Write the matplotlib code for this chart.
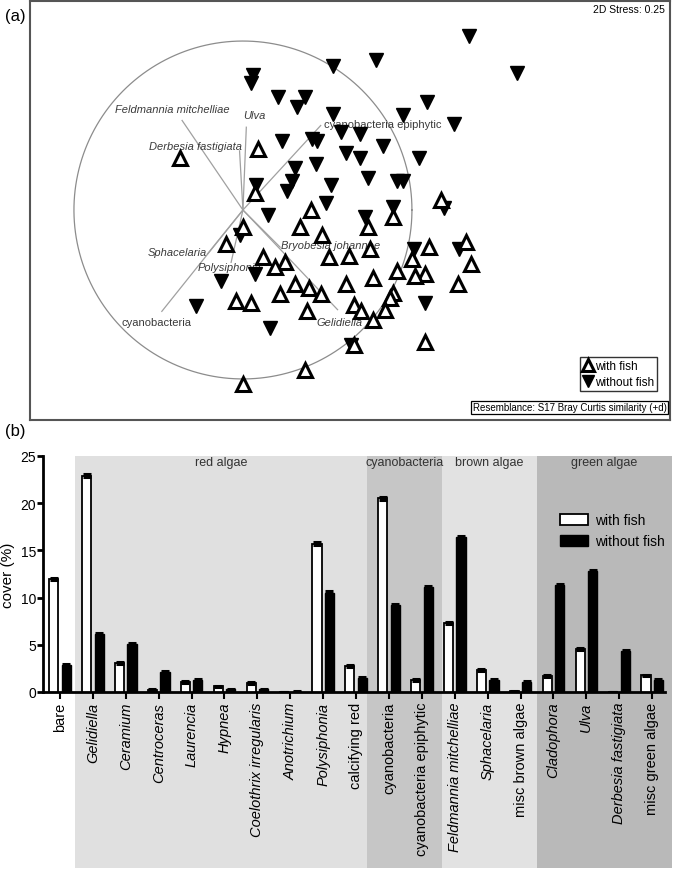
import numpy as np
import matplotlib
matplotlib.use('Agg')
import matplotlib.pyplot as plt
from matplotlib.patches import Rectangle, Patch
from matplotlib.lines import Line2D
from matplotlib.transforms import blended_transform_factory

plt.rcParams['font.family'] = ['Liberation Sans', 'DejaVu Sans']

# ---- (a) nMDS ordination, MDS1 / MDS2 scores ----
with_fish_x = [-0.37, 0.09, 0.07, 1.17, 0.40, 0.89, 0.34, 0.74, 0.00, 0.47, -0.10,
               1.10, 1.32, 0.75, 1.00, 0.51, 0.63, 1.35, 0.12, 0.25, 0.19, 0.91,
               1.08, 1.02, 0.77, 0.31, 0.39, 0.61, 1.27, 0.46, 0.89, 0.87, 0.22,
               -0.04, 0.05, 0.66, 0.70, 0.84, 0.38, 0.77, 1.08, 0.66, 0.37, 0.00]
with_fish_y = [0.31, 0.36, 0.10, 0.06, 0.00, -0.04, -0.10, -0.10, -0.10, -0.15, -0.20,
               -0.22, -0.19, -0.23, -0.29, -0.28, -0.27, -0.32, -0.28, -0.31, -0.34, -0.36,
               -0.38, -0.39, -0.40, -0.44, -0.46, -0.44, -0.44, -0.50, -0.49, -0.52, -0.50,
               -0.54, -0.55, -0.56, -0.60, -0.59, -0.60, -0.65, -0.78, -0.80, -0.95, -1.03]

without_fish_x = [1.34, 0.79, 1.62, 0.53, 0.06, 0.05, 0.21, 0.37, 0.32, 1.09, 0.53,
                  0.95, 1.25, 0.58, 0.69, 0.41, 0.44, 0.23, 0.83, 0.61, 0.69, 1.04,
                  0.31, 0.43, 0.29, 0.08, 0.52, 0.74, 0.91, 0.95, 0.26, 0.49, 0.89,
                  1.19, 0.15, 0.72, -0.02, 1.01, 1.28, 0.07, -0.13, -0.28, 1.08, 0.16, 0.64]
without_fish_y = [1.03, 0.89, 0.81, 0.85, 0.80, 0.75, 0.67, 0.67, 0.61, 0.64, 0.57,
                  0.56, 0.51, 0.46, 0.45, 0.42, 0.41, 0.41, 0.38, 0.34, 0.31, 0.31,
                  0.25, 0.27, 0.17, 0.15, 0.15, 0.19, 0.17, 0.17, 0.11, 0.04, 0.02,
                  0.01, -0.03, -0.04, -0.15, -0.23, -0.23, -0.38, -0.42, -0.57, -0.55, -0.70, -0.80]

vec_names = ['Feldmannia mitchelliae', 'Ulva', 'Derbesia fastigiata',
             'cyanobacteria epiphytic', 'Bryobesia johannae', 'Gelidiella',
             'Sphacelaria', 'Polysiphonia', 'cyanobacteria']
vec_x = [-0.36, 0.02, -0.02, 0.46, 0.22, 0.56, -0.21, -0.07, -0.48]
vec_y = [0.53, 0.49, 0.35, 0.50, -0.22, -0.59, -0.26, -0.31, -0.60]

# ---- (b) percent cover ----
categories = ['bare', 'Gelidiella', 'Ceramium', 'Centroceras', 'Laurencia', 'Hypnea',
              'Coelothrix irregularis', 'Anotrichium', 'Polysiphonia', 'calcifying red',
              'cyanobacteria', 'cyanobacteria epiphytic', 'Feldmannia mitchelliae',
              'Sphacelaria', 'misc brown algae', 'Cladophora', 'Ulva',
              'Derbesia fastigiata', 'misc green algae']
italic_names = ['Gelidiella', 'Ceramium', 'Centroceras', 'Laurencia', 'Hypnea',
                'Coelothrix irregularis', 'Anotrichium', 'Polysiphonia',
                'Feldmannia mitchelliae', 'Sphacelaria', 'Cladophora', 'Ulva',
                'Derbesia fastigiata']
cover_with = [12.0, 22.9, 3.1, 0.25, 1.1, 0.6, 1.0, 0.0, 15.7, 2.8, 20.5, 1.3,
              7.3, 2.3, 0.1, 1.65, 4.6, 0.05, 1.75]
cover_without = [2.9, 6.1, 5.1, 2.1, 1.25, 0.3, 0.3, 0.05, 10.5, 1.5, 9.2, 11.1,
                 16.4, 1.3, 1.05, 11.3, 12.8, 4.35, 1.3]
err_with = [0.1, 0.15, 0.1, 0.05, 0.1, 0.05, 0.1, 0.0, 0.15, 0.1, 0.15, 0.1,
            0.1, 0.1, 0.05, 0.1, 0.1, 0.0, 0.1]
err_without = [0.1, 0.1, 0.1, 0.1, 0.1, 0.05, 0.05, 0.02, 0.15, 0.1, 0.15, 0.15,
               0.15, 0.1, 0.1, 0.15, 0.15, 0.1, 0.1]

groups = ['red algae', 'cyanobacteria', 'brown algae', 'green algae']
group_start = [0.46, 9.33, 11.61, 14.5]
group_end = [9.33, 11.61, 14.5, 18.6]
group_colors = ['#e0e0e0', '#c6c6c6', '#e2e2e2', '#b9b9b9']

fig = plt.figure(figsize=(6.73, 8.70), dpi=100)

# ================= panel (a) =================
ax1 = fig.add_axes([30/673, 1-421/870, 640/673, 419/870])
ax1.set_xlim(-1.26, 2.527)
ax1.set_ylim(-1.243, 1.237)
ax1.set_xticks([])
ax1.set_yticks([])
for s in ax1.spines.values():
    s.set_color('#555555')
    s.set_linewidth(1.5)

t = np.linspace(0, 2*np.pi, 400)
ax1.plot(np.cos(t), np.sin(t), color='#8c8c8c', lw=0.9, zorder=1)
for vx, vy in zip(vec_x, vec_y):
    ax1.plot([0, vx], [0, vy], color='#a0a0a0', lw=0.9, zorder=1)

label_pos = {
    'Feldmannia mitchelliae': (-0.42, 0.60),
    'Ulva': (0.07, 0.56),
    'Derbesia fastigiata': (-0.28, 0.38),
    'cyanobacteria epiphytic': (0.83, 0.51),
    'Bryobesia johannae': (0.52, -0.21),
    'Gelidiella': (0.57, -0.66),
    'Sphacelaria': (-0.39, -0.25),
    'Polysiphonia': (-0.08, -0.34),
    'cyanobacteria': (-0.51, -0.66),
}
for name in vec_names:
    lx, ly = label_pos[name]
    st = 'normal' if name.startswith('cyanobacteria') else 'italic'
    ax1.text(lx, ly, name, ha='center', va='center', fontsize=8, style=st,
             color='#3a3a3a', zorder=2)

ax1.plot(without_fish_x, without_fish_y, linestyle='none', marker='v', ms=9.5,
         mfc='black', mec='black', mew=1, zorder=3)
ax1.plot(with_fish_x, with_fish_y, linestyle='none', marker='^', ms=9.5,
         mfc='white', mec='black', mew=2.2, zorder=4)

ax1.text(0.992, 0.982, '2D Stress: 0.25', transform=ax1.transAxes, ha='right',
         va='center', fontsize=7.5)
ax1.text(0.995, 0.018, 'Resemblance: S17 Bray Curtis similarity (+d)',
         transform=ax1.transAxes, ha='right', va='bottom', fontsize=7,
         bbox=dict(boxstyle='square,pad=0.15', fc='white', ec='black', lw=0.9))
h1 = [Line2D([], [], linestyle='none', marker='^', ms=9, mfc='white', mec='black', mew=2.2),
      Line2D([], [], linestyle='none', marker='v', ms=9, mfc='black', mec='black')]
leg1 = ax1.legend(h1, ['with fish', 'without fish'], loc='lower right',
                  bbox_to_anchor=(0.98, 0.07), fontsize=8.5, frameon=True,
                  fancybox=False, edgecolor='black', handlelength=0.8,
                  handletextpad=0.2, borderpad=0.25, labelspacing=0.3,
                  borderaxespad=0)
leg1.get_frame().set_linewidth(1.0)

fig.text(5/673, 1-16/870, '(a)', fontsize=12, va='center', ha='left')
fig.text(5/673, 1-432/870, '(b)', fontsize=12, va='center', ha='left')

# ================= panel (b) =================
ax2 = fig.add_axes([43/673, 1-693/870, 622/673, 236/870])
ax2.patch.set_visible(False)
x = np.arange(len(categories))
ax2.set_xlim(-0.517, 18.39)
ax2.set_ylim(0, 25)

tr = blended_transform_factory(ax2.transData, ax2.transAxes)
for g, x0, x1, c in zip(groups, group_start, group_end, group_colors):
    ax2.add_patch(Rectangle((x0, -0.745), x1 - x0, 1.745, transform=tr,
                            facecolor=c, edgecolor='none', clip_on=False, zorder=0))
    ax2.text((x0 + x1) / 2, 0.975, g, transform=tr, ha='center', va='center',
             fontsize=9, color='#333333')

w = 0.28
off = 0.19
ax2.bar(x - off, cover_with, width=w, color='white', edgecolor='black', lw=1.3, zorder=3)
ax2.bar(x + off, cover_without, width=w, color='black', edgecolor='black', lw=1.0, zorder=3)
ax2.errorbar(x - off, cover_with, yerr=err_with, fmt='none', ecolor='black',
             elinewidth=1.5, capsize=3, capthick=2.2, zorder=4)
ax2.errorbar(x + off, cover_without, yerr=err_without, fmt='none', ecolor='black',
             elinewidth=1.5, capsize=3, capthick=2.2, zorder=4)

ax2.spines['top'].set_visible(False)
ax2.spines['right'].set_visible(False)
ax2.spines['left'].set_linewidth(2)
ax2.spines['bottom'].set_linewidth(2)
ax2.set_yticks([0, 5, 10, 15, 20, 25])
ax2.tick_params(axis='y', direction='out', length=4, width=2, labelsize=10, pad=1)
ax2.tick_params(axis='x', direction='out', length=5, width=1.5, labelsize=10.5, pad=2)
ax2.set_xticks(x)
ax2.set_xticklabels(categories, rotation=90)
for lab in ax2.get_xticklabels():
    if lab.get_text() in italic_names:
        lab.set_style('italic')
ax2.set_ylabel('cover (%)', fontsize=11, labelpad=4)

h2 = [Patch(facecolor='white', edgecolor='black', lw=1.3),
      Patch(facecolor='black', edgecolor='black')]
ax2.legend(h2, ['with fish', 'without fish'], loc='upper left',
           bbox_to_anchor=(0.822, 0.78), frameon=False, fontsize=10,
           handlelength=2.0, handleheight=0.9, handletextpad=0.5,
           labelspacing=0.5, borderaxespad=0)

fig.savefig('out.png', dpi=100)
